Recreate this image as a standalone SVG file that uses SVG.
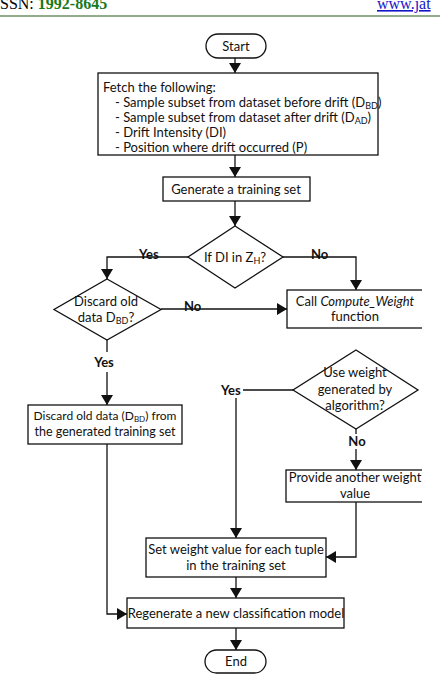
<svg xmlns="http://www.w3.org/2000/svg" width="440" height="682" viewBox="0 0 440 682">
<style>
.b{fill:#fff;stroke:#111;stroke-width:1.3}
.t{font-family:Lato,"Open Sans","Liberation Sans",sans-serif;font-size:13px;fill:#111}
.c{text-anchor:middle}
.l{font-family:Lato,"Liberation Sans",sans-serif;font-size:13px;font-weight:bold;fill:#111}
.w{fill:none;stroke:#111;stroke-width:1.3}
.s{font-size:9px}
</style>
<defs>
<marker id="ah" markerWidth="10" markerHeight="12" refX="10" refY="6" orient="auto" markerUnits="userSpaceOnUse" viewBox="0 0 10 12">
<path d="M0,0 L10,6 L0,12 Z" fill="#111"/>
</marker>
<clipPath id="crop"><rect x="0" y="0" width="422" height="682"/></clipPath>
</defs>
<rect width="440" height="682" fill="#fff"/>
<g id="header">
<text x="0" y="9" font-family="Liberation Serif,serif" font-size="16">SSN: <tspan fill="#1a7a1a" font-weight="bold">1992-8645</tspan></text>
<text x="377" y="9" font-family="Liberation Serif,serif" font-size="16" fill="#1515c8" text-decoration="underline">www.jat</text>
<line x1="0" y1="16" x2="440" y2="16" stroke="#6d8f66" stroke-width="1.5"/>
</g>
<g id="connectors">
<path class="w" d="M235,58 V73" marker-end="url(#ah)"/>
<path class="w" d="M235,155 V177" marker-end="url(#ah)"/>
<path class="w" d="M235,201 V226" marker-end="url(#ah)"/>
<path class="w" d="M188,257 H107 V279" marker-end="url(#ah)"/>
<path class="w" d="M283,257 H356 V290" marker-end="url(#ah)"/>
<path class="w" d="M161,309 H287" marker-end="url(#ah)"/>
<path class="w" d="M107,340 V352 M107,372 V405" marker-end="url(#ah)"/>
<path class="w" d="M293,390 H243 M236,398 V538" marker-end="url(#ah)"/>
<path class="w" d="M356,429 V434 M356,449 V470" marker-end="url(#ah)"/>
<path class="w" d="M356,502 V557 H326" marker-end="url(#ah)"/>
<path class="w" d="M236,577 V598" marker-end="url(#ah)"/>
<path class="w" d="M107,444 V614 H127" marker-end="url(#ah)"/>
<path class="w" d="M236,628 V650" marker-end="url(#ah)"/>
<text class="l" x="139" y="259">Yes</text>
<text class="l" x="311" y="259">No</text>
<text class="l" x="184" y="311">No</text>
<text class="l c" x="104" y="367">Yes</text>
<text class="l" x="221" y="395">Yes</text>
<text class="l c" x="357" y="446">No</text>
</g>
<g id="start">
<rect class="b" x="206" y="34" width="60" height="24" rx="12"/>
<text class="t c" x="236" y="50.5">Start</text>
</g>
<g id="fetch">
<rect class="b" x="98" y="73" width="280" height="82"/>
<text class="t" x="103" y="92">Fetch the following:</text>
<text class="t" x="115" y="107">- Sample subset from dataset before drift (D<tspan class="s" dy="1.5">BD</tspan><tspan dy="-1.5">)</tspan></text>
<text class="t" x="115" y="122">- Sample subset from dataset after drift (D<tspan class="s" dy="1.5">AD</tspan><tspan dy="-1.5">)</tspan></text>
<text class="t" x="115" y="137">- Drift Intensity (DI)</text>
<text class="t" x="115" y="152" font-family="Liberation Serif,serif">- Position where drift occurred (P)</text>
</g>
<g id="generate">
<rect class="b" x="163" y="177" width="147" height="24"/>
<text class="t c" x="236" y="193.5">Generate a training set</text>
</g>
<g id="decision1">
<polygon class="b" points="235,226 283,257 235,288 188,257"/>
<text class="t c" x="235" y="261.5">If DI in Z<tspan class="s" dy="2">H</tspan><tspan dy="-2">?</tspan></text>
</g>
<g id="decision2">
<polygon class="b" points="107,279 161,309.5 107,340 54,309.5"/>
<text class="t c" x="106" y="306">Discard old</text>
<text class="t c" x="106" y="322">data D<tspan class="s" dy="2">BD</tspan><tspan dy="-2">?</tspan></text>
</g>
<g id="call">
<rect class="b" x="287" y="290" width="150" height="38" clip-path="url(#crop)"/>
<text class="t c" x="355" y="306">Call <tspan font-style="italic">Compute_Weight</tspan></text>
<text class="t c" x="355" y="321">function</text>
</g>
<g id="decision3">
<polygon class="b" points="356,350 418,390 356,429 293,390"/>
<text class="t c" x="355" y="377">Use weight</text>
<text class="t c" x="355" y="394">generated by</text>
<text class="t c" x="355" y="410">algorithm?</text>
</g>
<g id="discard">
<rect class="b" x="28" y="405" width="154" height="39"/>
<text class="t c" x="105" y="420" style="font-size:12px">Discard old data (D<tspan class="s" dy="1.5" style="font-size:8px">BD</tspan><tspan dy="-1.5">) from</tspan></text>
<text class="t c" x="105" y="436" style="font-size:12.5px">the generated training set</text>
</g>
<g id="provide">
<rect class="b" x="286" y="470" width="150" height="32" clip-path="url(#crop)"/>
<text class="t c" x="355" y="482">Provide another weight</text>
<text class="t c" x="355" y="498">value</text>
</g>
<g id="setweight">
<rect class="b" x="146" y="538" width="180" height="39"/>
<text class="t c" x="236" y="554">Set weight value for each tuple</text>
<text class="t c" x="236" y="570">in the training set</text>
</g>
<g id="regenerate">
<rect class="b" x="127" y="598" width="217" height="30"/>
<text class="t c" x="236" y="618">Regenerate a new classification model</text>
</g>
<g id="end">
<rect class="b" x="205" y="650" width="61" height="23" rx="11.5"/>
<text class="t c" x="236" y="666">End</text>
</g>
</svg>
